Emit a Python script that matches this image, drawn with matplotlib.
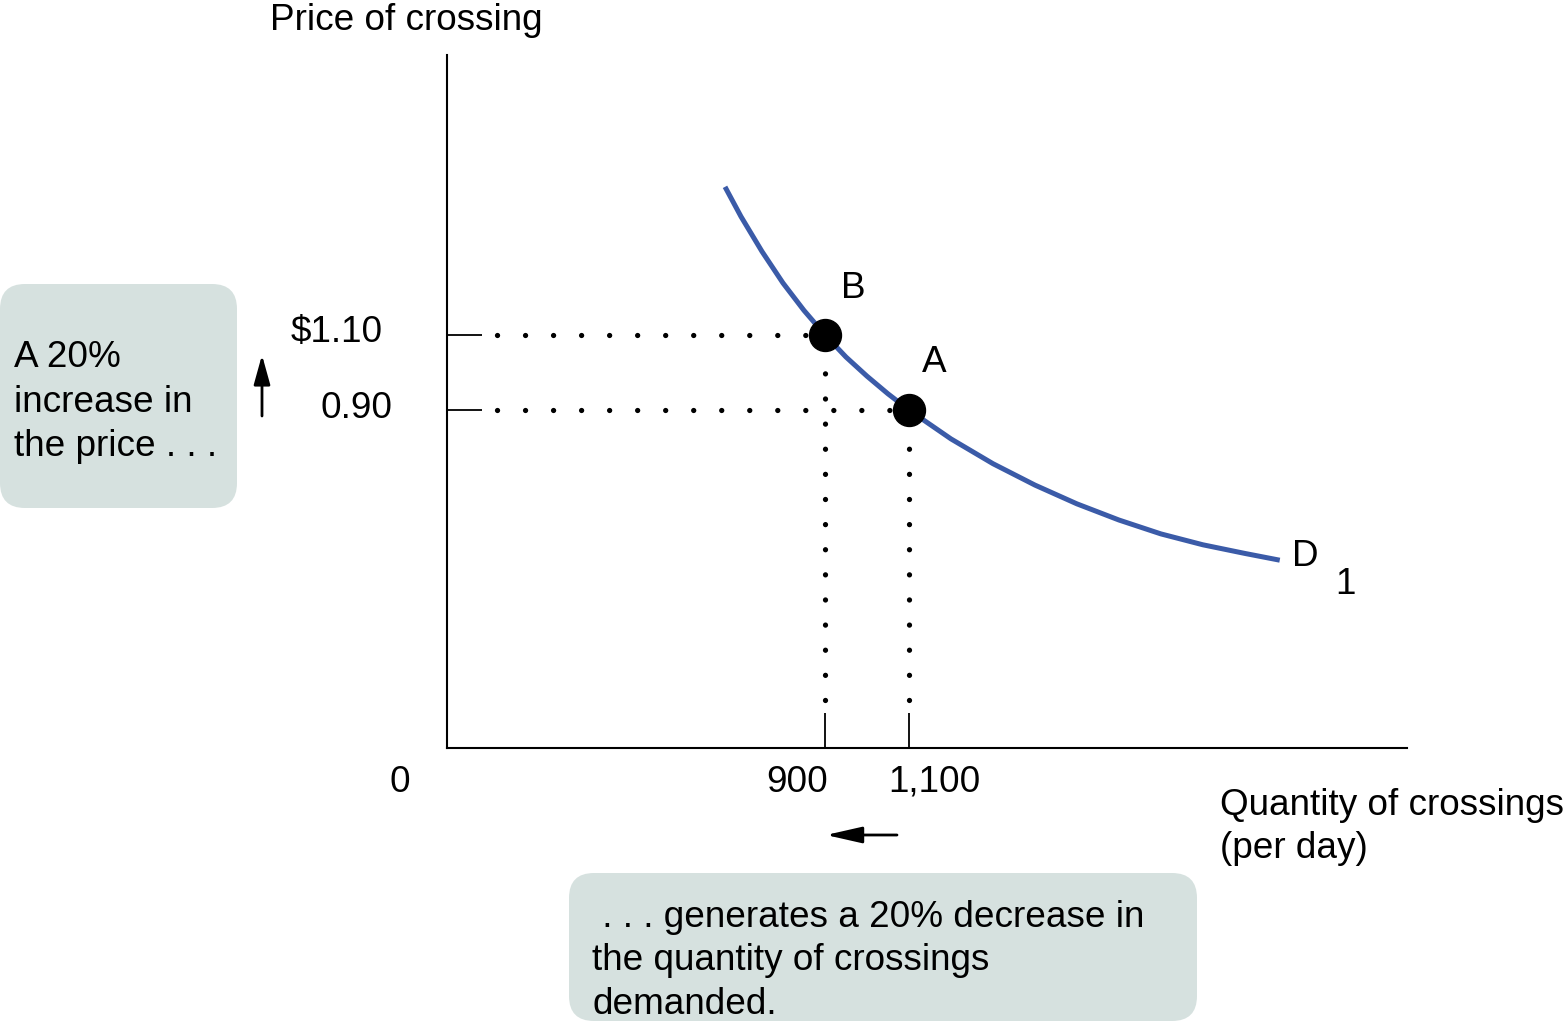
import matplotlib.pyplot as plt
from matplotlib.patches import FancyBboxPatch

plt.rcParams['font.family'] = ['Liberation Sans', 'DejaVu Sans']

# demand curve D1 (quantity per day, price)
quantity = [662, 700, 750, 800, 850, 900, 950, 1000, 1050, 1100, 1200, 1300, 1400,
            1500, 1600, 1700, 1800, 1900, 1983]
price = [1.494, 1.415, 1.322, 1.238, 1.165, 1.100, 1.041, 0.990, 0.943, 0.900, 0.823,
         0.757, 0.700, 0.650, 0.607, 0.570, 0.541, 0.518, 0.500]

# points B and A on the curve
point_names = ['B', 'A']
point_q = [900, 1100]
point_p = [1.10, 0.90]
price_labels = ['$1.10', '0.90']
qty_labels = ['900', '1,100']

W, H = 1567, 1024
fig = plt.figure(figsize=(W / 100, H / 100), dpi=100)

# layer in pixel units for the notes and boxes
over = fig.add_axes([0, 0, 1, 1])
over.set_xlim(0, W)
over.set_ylim(H, 0)
over.axis('off')

ax = fig.add_axes([447 / W, (H - 748) / H, 960 / W, 693 / H])
ax.patch.set_alpha(0)
ax.set_xlim(0, 2286)
ax.set_ylim(0, 1.845)
ax.spines['top'].set_visible(False)
ax.spines['right'].set_visible(False)
ax.spines['left'].set_linewidth(1.5)
ax.spines['bottom'].set_linewidth(1.5)
ax.set_xticks(point_q)
ax.set_yticks(point_p)
ax.tick_params(direction='in', length=25, width=1.3, labelbottom=False, labelleft=False)

ax.plot(quantity, price, color='#3B5BA8', lw=3.6, solid_capstyle='butt',
        solid_joinstyle='round')

# dotted guide lines
for q, p in zip(point_q, point_p):
    ax.plot([119, q], [p, p], color='black', lw=3.8, dash_capstyle='round',
            linestyle=(0, (0.01, 5.3)))
    ax.plot([q, q], [0.128, p], color='black', lw=3.8, dash_capstyle='round',
            linestyle=(0, (0.01, 4.75)))

ax.plot(point_q, point_p, 'o', color='black', ms=23, zorder=5)

fs = 26.6
# axis labels and tick texts
over.text(270, 20, 'Price of crossing', fontsize=fs, ha='left', va='center')
over.text(383, 333, price_labels[0], fontsize=fs, ha='right', va='center')
over.text(392, 408, price_labels[1], fontsize=fs, ha='right', va='center')
over.text(400, 782, '0', fontsize=fs, ha='center', va='center')
over.text(828, 782, qty_labels[0], fontsize=fs, ha='right', va='center')
over.text(888, 782, qty_labels[1], fontsize=fs, ha='left', va='center')
over.text(1220, 827, 'Quantity of crossings\n(per day)', fontsize=fs, ha='left', va='center',
          linespacing=1.33)

# point labels and curve label
over.text(853, 289, point_names[0], fontsize=fs, ha='center', va='center')
over.text(934, 363, point_names[1], fontsize=fs, ha='center', va='center')
over.text(1305, 556, 'D', fontsize=fs, ha='center', va='center')
over.text(1345, 585, '1', fontsize=fs, ha='center', va='center')

# note boxes
box_color = '#D6E1DF'
over.add_patch(FancyBboxPatch((0, 284), 237, 224, boxstyle='round,pad=0,rounding_size=25',
                              fc=box_color, ec='none'))
over.add_patch(FancyBboxPatch((569, 873), 628, 148, boxstyle='round,pad=0,rounding_size=25',
                              fc=box_color, ec='none'))
over.text(14, 402, 'A 20%\nincrease in\nthe price . . .', fontsize=fs, ha='left', va='center',
          linespacing=1.35)
over.text(592, 961, ' . . . generates a 20% decrease in\nthe quantity of crossings\ndemanded.',
          fontsize=fs, ha='left', va='center', linespacing=1.33)

# arrows
over.annotate('', xy=(262, 355), xytext=(262, 416),
              arrowprops=dict(arrowstyle='-|>,head_length=1.8,head_width=0.5',
                              color='black', lw=2, shrinkA=0, shrinkB=0))
over.annotate('', xy=(826, 835), xytext=(897, 835),
              arrowprops=dict(arrowstyle='-|>,head_length=2.2,head_width=0.5',
                              color='black', lw=2, shrinkA=0, shrinkB=0))

fig.savefig('out.png', dpi=100)
